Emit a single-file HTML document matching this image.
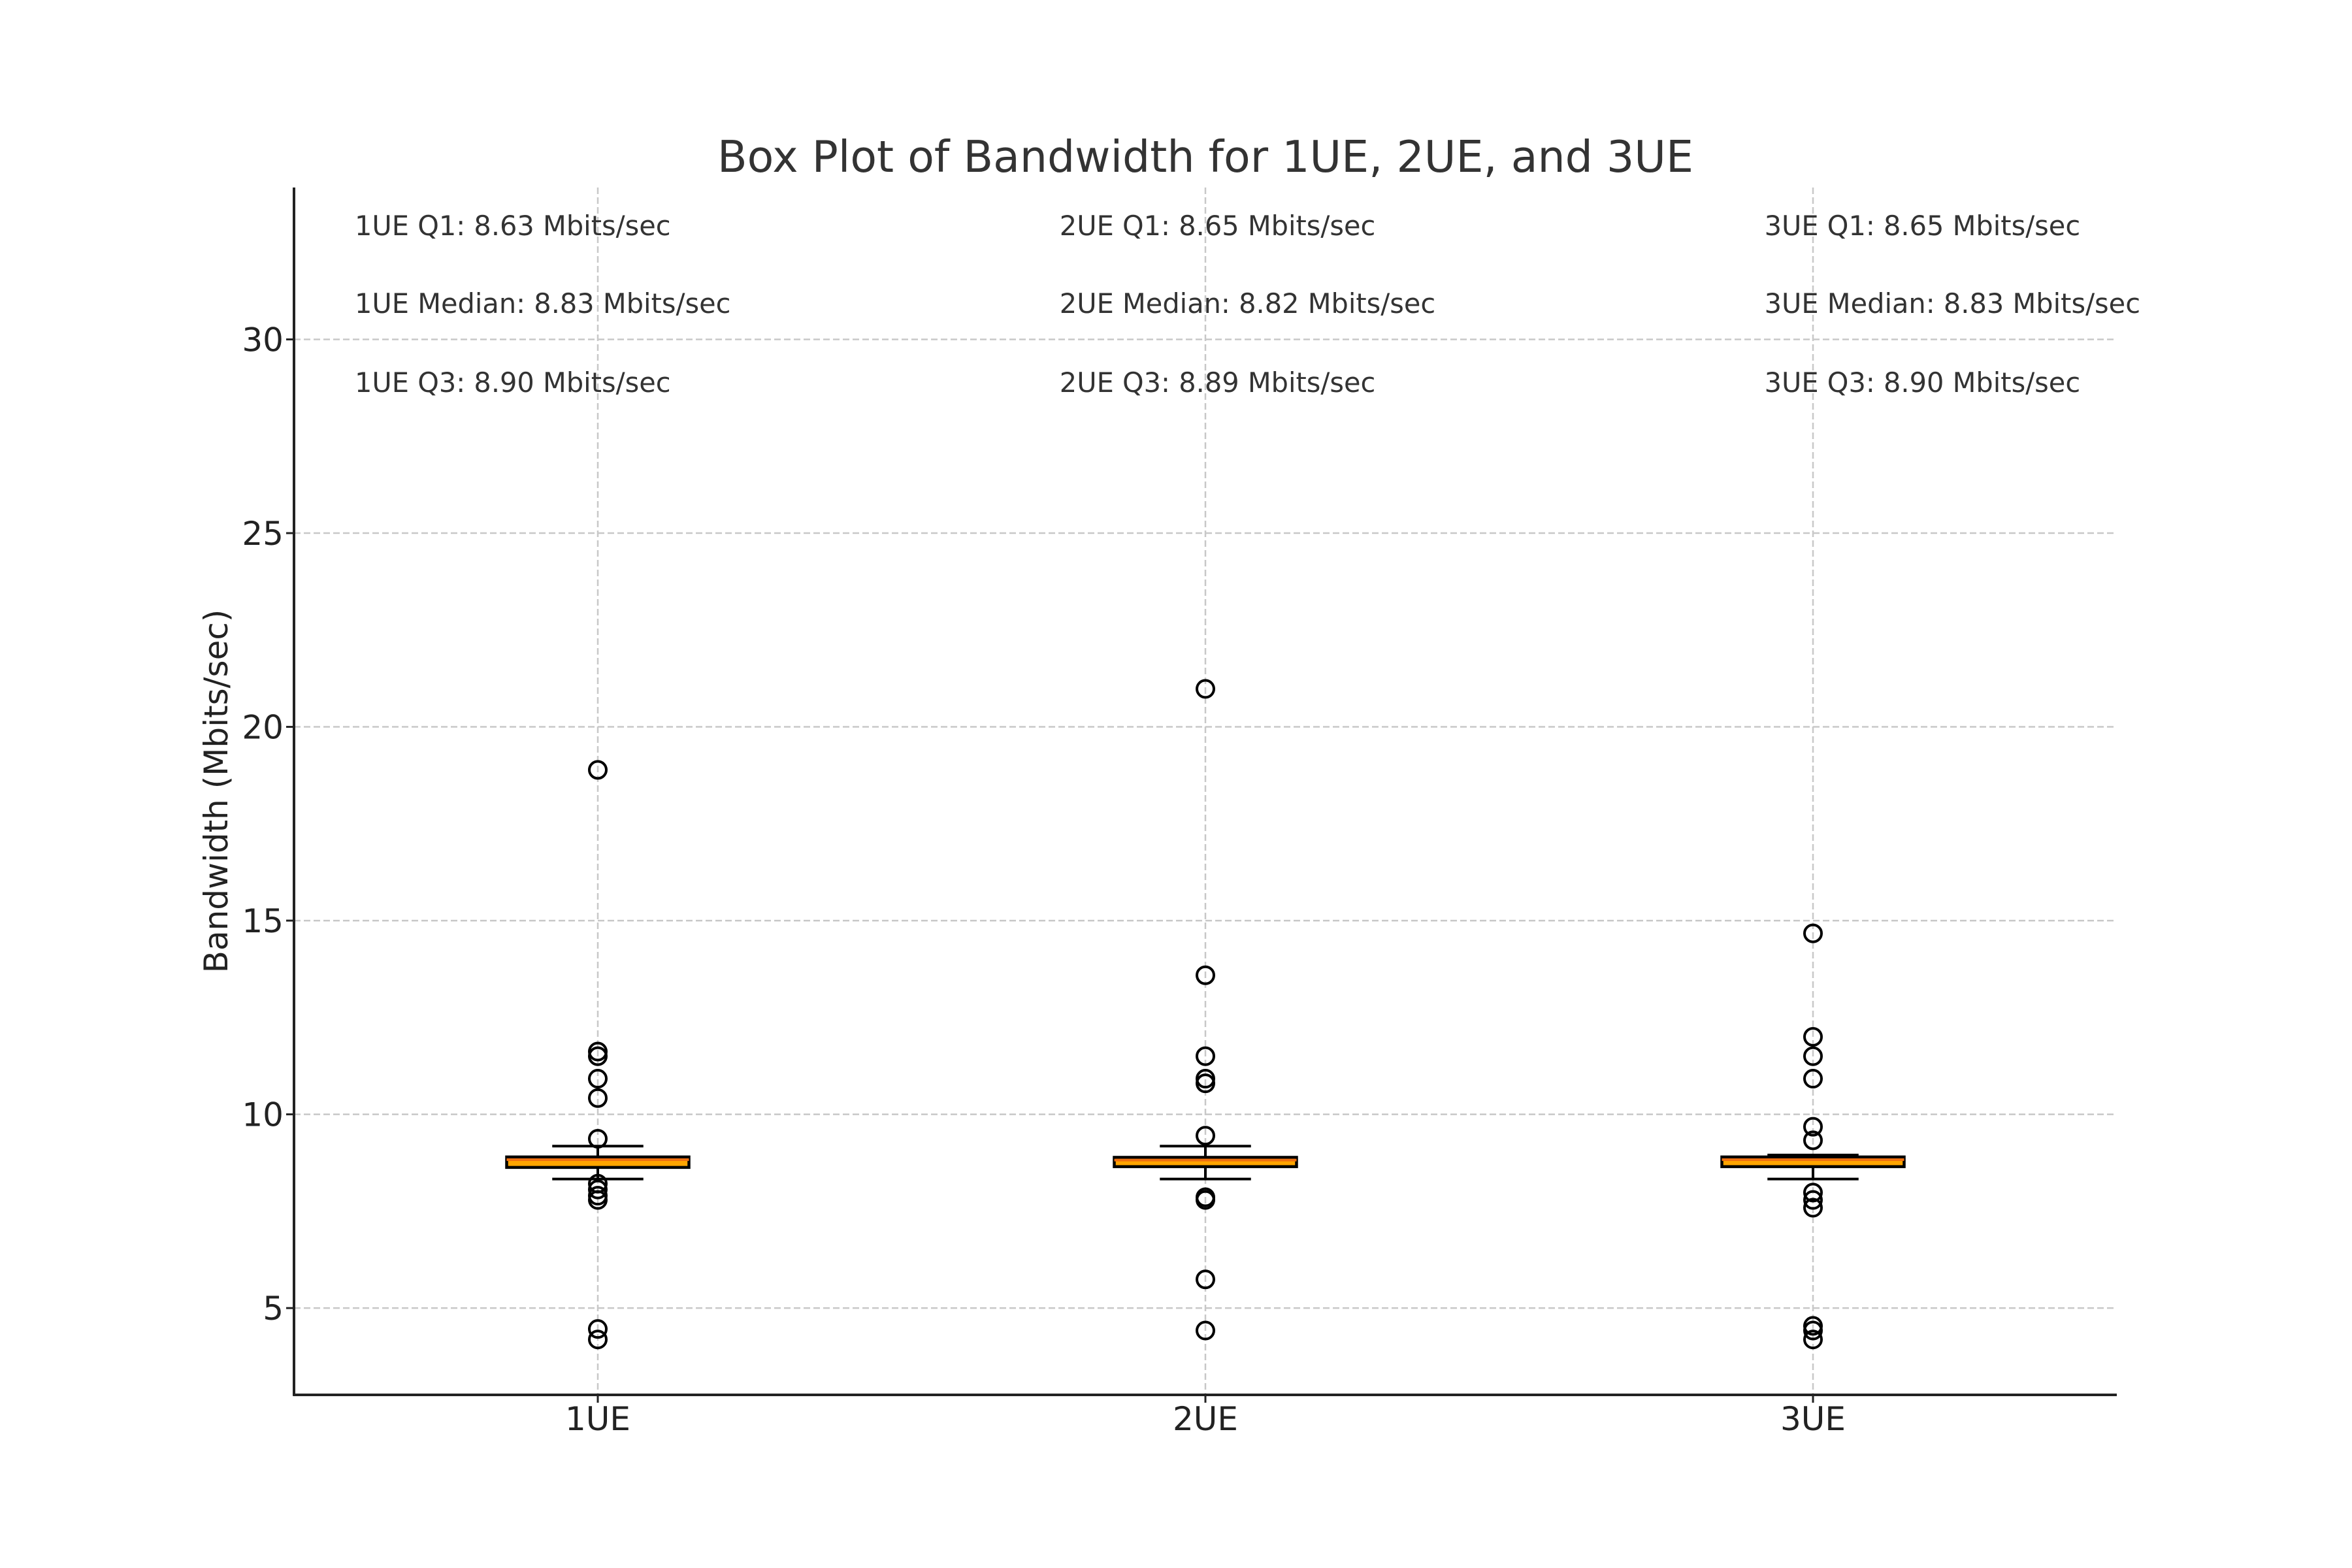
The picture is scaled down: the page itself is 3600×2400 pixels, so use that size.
<!DOCTYPE html>
<html><head><meta charset="utf-8"><style>
html,body{margin:0;padding:0;background:#fff;}
svg{display:block;font-family:"DejaVu Sans","Liberation Sans",sans-serif;}
</style></head><body>
<svg id="chart" width="3600" height="2400" viewBox="0 0 3600 2400" xmlns="http://www.w3.org/2000/svg">
<rect width="3600" height="2400" fill="#fff"/>
<text x="1845" y="263" font-size="66.5" fill="#333" text-anchor="middle">Box Plot of Bandwidth for 1UE, 2UE, and 3UE</text>
<text transform="translate(348,1211) rotate(-90)" font-size="50" fill="#222" text-anchor="middle">Bandwidth (Mbits/sec)</text>
<g id="grid"></g><g id="marks"></g><g id="axes"></g><g id="notes"></g>
</svg>
<script>
const categories = ["1UE","2UE","3UE"];
const q1s = [8.63, 8.65, 8.65];
const medians = [8.83, 8.82, 8.83];
const q3s = [8.90, 8.89, 8.90];
const whiskerLow = [8.33, 8.33, 8.33];
const whiskerHigh = [9.18, 9.18, 8.95];
const outliers1 = [18.89, 11.62, 11.5, 10.92, 10.42, 9.37, 8.21, 8.06, 7.9, 7.79, 4.46, 4.19];
const outliers2 = [20.98, 13.59, 11.5, 10.92, 10.8, 9.45, 7.86, 7.79, 5.74, 4.42];
const outliers3 = [14.67, 12.0, 11.5, 10.92, 9.68, 9.33, 7.98, 7.79, 7.59, 4.54, 4.42, 4.19];
const outliers = [outliers1, outliers2, outliers3];
const yTicks = [5, 10, 15, 20, 25, 30];

const NS = "http://www.w3.org/2000/svg";
const L = 450, R = 3240, T = 287, B = 2135;
const xMin = 0.5, xMax = 3.5, yMin = 2.76, yMax = 33.92;
const xs = v => L + (v - xMin) / (xMax - xMin) * (R - L);
const ys = v => B - (v - yMin) / (yMax - yMin) * (B - T);
function mk(tag, attrs, parent){const e=document.createElementNS(NS,tag);for(const k in attrs)e.setAttribute(k,attrs[k]);parent.appendChild(e);return e;}
const grid=document.getElementById('grid'), marks=document.getElementById('marks'), axes=document.getElementById('axes'), notes=document.getElementById('notes');

yTicks.forEach(t=>{
  const y=ys(t);
  const g=mk('line',{x1:L,x2:R,y1:y,y2:y,stroke:'#c8c8c8','stroke-width':2.5,'stroke-dasharray':'10,5'},grid);
  
  
  const tk=mk('line',{x1:L-12,x2:L,y1:y,y2:y,stroke:'#222','stroke-width':3},axes);
  
  
  const lb=mk('text',{x:L-16,y:y+18,'font-size':50,fill:'#222','text-anchor':'end'},axes);
  lb.textContent=t;
  
  
});
categories.forEach((c,i)=>{
  const x=xs(i+1);
  const g=mk('line',{x1:x,x2:x,y1:T,y2:B,stroke:'#c8c8c8','stroke-width':2.5,'stroke-dasharray':'10,5'},grid);
  
  
  const tk=mk('line',{x1:x,x2:x,y1:B,y2:B+12,stroke:'#222','stroke-width':3},axes);
  
  
  const lb=mk('text',{x:x,y:B+54,'font-size':50,fill:'#222','text-anchor':'middle'},axes);
  lb.textContent=c;
  
  

  const grp=mk('g',{},marks);
  
  
  const bw=xs(i+1+0.15)-xs(i+1), cw=xs(i+1+0.075)-xs(i+1);
  mk('line',{x1:x,x2:x,y1:ys(q3s[i]),y2:ys(whiskerHigh[i]),stroke:'#000','stroke-width':4},grp);
  mk('line',{x1:x,x2:x,y1:ys(q1s[i]),y2:ys(whiskerLow[i]),stroke:'#000','stroke-width':4},grp);
  mk('line',{x1:x-cw,x2:x+cw,y1:ys(whiskerHigh[i]),y2:ys(whiskerHigh[i]),stroke:'#000','stroke-width':4},grp);
  mk('line',{x1:x-cw,x2:x+cw,y1:ys(whiskerLow[i]),y2:ys(whiskerLow[i]),stroke:'#000','stroke-width':4},grp);
  mk('rect',{x:x-bw,y:ys(q3s[i]),width:2*bw,height:ys(q1s[i])-ys(q3s[i]),fill:'#FFA500',stroke:'#000','stroke-width':4.5},grp);
  mk('line',{x1:x-bw,x2:x+bw,y1:ys(medians[i]),y2:ys(medians[i]),stroke:'#f07010','stroke-width':4},grp);
  outliers[i].forEach(v=>{
    const cc=mk('circle',{cx:x,cy:ys(v),r:13,fill:'none',stroke:'#000','stroke-width':4},marks);
    
    
  });

  const tx=xs(0.6 + i*1.16);
  [['Q1',q1s[i],360],['Median',medians[i],479],['Q3',q3s[i],600]].forEach(a=>{
    const t=mk('text',{x:tx,y:a[2],'font-size':41.5,fill:'#333'},notes);
    t.textContent=c+' '+a[0]+': '+a[1].toFixed(2)+' Mbits/sec';
    
    
  });
});
const ya=mk('line',{x1:L,x2:L,y1:T,y2:B+1.5,stroke:'#222','stroke-width':4},axes);


const xa=mk('line',{x1:L-1.5,x2:R,y1:B,y2:B,stroke:'#222','stroke-width':4},axes);


</script>
</body></html>
